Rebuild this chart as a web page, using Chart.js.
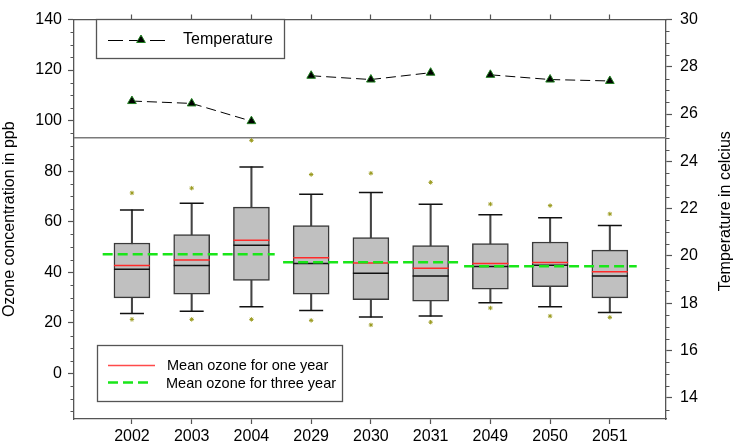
<!DOCTYPE html>
<html>
<head>
<meta charset="utf-8">
<script src="https://cdn.jsdelivr.net/npm/chart.js@4.4.1/dist/chart.umd.min.js"></script>
<style>
    html, body { margin: 0; padding: 0; background: #fff; }
    #wrap { width: 735px; height: 446px; position: relative; }
</style>
</head>
<body>
<div id="wrap"><canvas id="chart"></canvas></div>
<script>
// values
const years = ['2002', '2003', '2004', '2029', '2030', '2031', '2049', '2050', '2051'];
const whiskerHigh = [64.7, 67.3, 81.7, 70.9, 71.6, 66.9, 62.8, 61.6, 58.5];
const q3 = [51.6, 54.9, 65.8, 58.5, 53.8, 50.6, 51.4, 52.0, 48.8];
const median = [41.2, 42.7, 50.7, 43.5, 39.6, 38.6, 42.3, 42.8, 38.6];
const mean = [42.7, 44.9, 52.7, 45.8, 43.7, 41.6, 43.5, 43.9, 40.2];
const q1 = [29.9, 31.4, 36.8, 31.4, 29.2, 28.6, 33.3, 34.3, 29.9];
const whiskerLow = [23.7, 24.6, 26.4, 24.9, 22.3, 22.7, 28.0, 26.4, 24.1];
const outlierHigh = [71.4, 73.3, 92.2, 78.7, 79.2, 75.6, 67.0, 66.4, 63.1];
const outlierLow = [21.4, 21.4, 21.4, 21.0, 19.2, 20.3, 25.9, 22.7, 22.2];
const temperature = [26.55, 26.45, 25.7, 27.62, 27.46, 27.75, 27.66, 27.46, 27.4];

// three-year groups: mean ozone and the span (in category units) of its line
const groupMean = [47.2, 44.0, 42.4];
const groupStart = [-0.49, 2.53, 5.56];
const groupEnd = [2.39, 5.54, 8.45];
const groupSize = 3;

const separatorTemp = 25;

const X_MIN = -0.97;
const X_MAX = 8.94;
const OZONE_MIN = -18;
const OZONE_MAX = 140;
const TEMP_MIN = 13.1;
const TEMP_MAX = 30;

const AXIS_COLOR = '#555';
const FONT = '"Liberation Sans", Arial, Helvetica, sans-serif';

Chart.defaults.font.family = FONT;
Chart.defaults.font.size = 16;
Chart.defaults.color = '#000';

const pts = (arr) => arr.map((v, i) => ({ x: i, y: v }));

function temperaturePoints() {
    const out = [];
    temperature.forEach((t, i) => {
        out.push({ x: i, y: t });
        if ((i + 1) % groupSize === 0 && i < temperature.length - 1) {
            out.push({ x: i + 0.5, y: null });
        }
    });
    return out;
}

const groupDatasets = groupMean.map((m, g) => ({
    type: 'line',
    data: [{ x: groupStart[g], y: m }, { x: groupEnd[g], y: m }],
    borderColor: '#19e619',
    borderWidth: 2.5,
    borderDash: [10, 5],
    pointRadius: 0,
    fill: false,
}));

const datasets = [
    {
        type: 'line',
        label: 'Temperature',
        yAxisID: 'y2',
        data: temperaturePoints(),
        borderColor: '#000',
        borderWidth: 1,
        borderDash: [10, 5],
        spanGaps: false,
        pointStyle: 'triangle',
        pointRadius: 5,
        pointBackgroundColor: '#000',
        pointBorderColor: '#1f7f1f',
        pointBorderWidth: 1,
        fill: false,
    },
    ...groupDatasets,
    {
        type: 'scatter',
        data: pts(outlierHigh).concat(pts(outlierLow)),
        pointStyle: 'star',
        pointRadius: 2.2,
        borderColor: '#9a9a1e',
        borderWidth: 1,
    },
    {
        type: 'scatter',
        data: pts(mean),
        pointStyle: 'line',
        pointRadius: 18,
        borderColor: '#ff2a2a',
        borderWidth: 1.5,
    },
    {
        type: 'scatter',
        data: pts(median),
        pointStyle: 'line',
        pointRadius: 18,
        borderColor: '#111',
        borderWidth: 1.5,
    },
    {
        type: 'scatter',
        data: pts(whiskerHigh).concat(pts(whiskerLow)),
        pointStyle: 'line',
        pointRadius: 12,
        borderColor: '#111',
        borderWidth: 1.5,
    },
    {
        type: 'bar',
        data: q1.map((v, i) => ({ x: i, y: [v, q3[i]] })),
        backgroundColor: '#c0c0c0',
        borderColor: '#3a3a3a',
        borderWidth: 1.5,
        borderSkipped: false,
        barThickness: 36,
        grouped: false,
    },
    {
        type: 'bar',
        data: whiskerLow.map((v, i) => ({ x: i, y: [v, whiskerHigh[i]] })),
        backgroundColor: '#444',
        borderWidth: 0,
        barThickness: 1.4,
        grouped: false,
    },
    {
        type: 'line',
        yAxisID: 'y2',
        data: [{ x: X_MIN, y: separatorTemp }, { x: X_MAX, y: separatorTemp }],
        borderColor: '#7a7a7a',
        borderWidth: 1.5,
        pointRadius: 0,
    },
];

function fixWidth(w) {
    return (scale) => {
        scale.width = w;
        scale.paddingTop = 0;
        scale.paddingBottom = 0;
    };
}

function fixHeight(h) {
    return (scale) => {
        scale.height = h;
        scale.paddingLeft = 0;
        scale.paddingRight = 0;
    };
}

const minorTicks = {
    id: 'minorTicks',
    afterDraw(chart) {
        const { ctx, chartArea } = chart;
        const y = chart.scales.y;
        const y2 = chart.scales.y2;
        ctx.save();
        ctx.strokeStyle = AXIS_COLOR;
        ctx.lineWidth = 1;
        ctx.beginPath();
        for (let v = -15; v < OZONE_MAX; v += 5) {
            if (v % 20 === 0) continue;
            const py = Math.round(y.getPixelForValue(v)) + 0.5;
            ctx.moveTo(chartArea.left - 3.5, py);
            ctx.lineTo(chartArea.left, py);
        }
        for (let v = 13.5; v < TEMP_MAX; v += 0.5) {
            if (v % 2 === 0) continue;
            const py = Math.round(y2.getPixelForValue(v)) + 0.5;
            ctx.moveTo(chartArea.right, py);
            ctx.lineTo(chartArea.right + 3.5, py);
        }
        ctx.stroke();
        ctx.restore();
    }
};

const legendsAndTitle = {
    id: 'legendsAndTitle',
    afterDraw(chart) {
        const { ctx, chartArea } = chart;
        ctx.save();

        // temperature legend
        ctx.fillStyle = '#fff';
        ctx.fillRect(96, 19, 188, 39);
        ctx.strokeStyle = AXIS_COLOR;
        ctx.lineWidth = 1.3;
        ctx.strokeRect(96.5, 19.5, 188, 39);
        ctx.strokeStyle = '#000';
        ctx.lineWidth = 1;
        ctx.setLineDash([15, 6]);
        ctx.beginPath();
        ctx.moveTo(108, 40.5);
        ctx.lineTo(170, 40.5);
        ctx.stroke();
        ctx.setLineDash([]);
        ctx.fillStyle = '#000';
        ctx.strokeStyle = '#1f7f1f';
        Chart.helpers.drawPoint(ctx, { pointStyle: 'triangle', radius: 5, rotation: 0, borderWidth: 1 }, 141, 40);
        ctx.fillStyle = '#000';
        ctx.font = '16px ' + FONT;
        ctx.textBaseline = 'middle';
        ctx.textAlign = 'left';
        ctx.fillText('Temperature', 183, 40);

        // mean ozone legend
        ctx.fillStyle = '#fff';
        ctx.fillRect(97, 345, 245, 56);
        ctx.strokeStyle = AXIS_COLOR;
        ctx.lineWidth = 1.3;
        ctx.strokeRect(97.5, 345.5, 245, 56);
        ctx.strokeStyle = '#ff4a4a';
        ctx.lineWidth = 1.5;
        ctx.beginPath();
        ctx.moveTo(108, 365.5);
        ctx.lineTo(155, 365.5);
        ctx.stroke();
        ctx.strokeStyle = '#19e619';
        ctx.lineWidth = 2.5;
        ctx.setLineDash([10, 5]);
        ctx.beginPath();
        ctx.moveTo(108, 382.5);
        ctx.lineTo(152, 382.5);
        ctx.stroke();
        ctx.setLineDash([]);
        ctx.fillStyle = '#000';
        ctx.font = '14.5px ' + FONT;
        ctx.fillText('Mean ozone for one year', 167, 366);
        ctx.fillText('Mean ozone for three year', 166, 384);

        // right axis title, reading bottom to top
        ctx.font = '16px ' + FONT;
        ctx.textAlign = 'center';
        ctx.translate(726, (chartArea.top + chartArea.bottom) / 2 - 8);
        ctx.rotate(-Math.PI / 2);
        ctx.fillText('Temperature in celcius', 0, 0);

        ctx.restore();
    }
};

new Chart(document.getElementById('chart'), {
    type: 'bar',
    data: { datasets },
    plugins: [minorTicks, legendsAndTitle],
    options: {
        responsive: true,
        maintainAspectRatio: false,
        animation: false,
        events: [],
        layout: { padding: 0 },
        plugins: {
            legend: { display: false },
            tooltip: { enabled: false },
        },
        scales: {
            x: {
                type: 'linear',
                position: 'bottom',
                offset: false,
                min: X_MIN,
                max: X_MAX,
                ticks: {
                    stepSize: 1,
                    includeBounds: false,
                    autoSkip: false,
                    maxRotation: 0,
                    padding: 3,
                    callback: (v) => years[v] ?? '',
                },
                grid: { offset: false, drawOnChartArea: false, tickLength: 5, color: AXIS_COLOR, tickWidth: 1.2 },
                border: { color: AXIS_COLOR, width: 1.3 },
                afterFit: fixHeight(27),
            },
            x2: {
                type: 'linear',
                axis: 'x',
                position: 'top',
                offset: false,
                min: X_MIN,
                max: X_MAX,
                ticks: { stepSize: 1, includeBounds: false, display: false },
                grid: { offset: false, drawOnChartArea: false, tickLength: 5, color: AXIS_COLOR, tickWidth: 1.2 },
                border: { color: AXIS_COLOR, width: 1.3 },
                afterFit: fixHeight(6),
            },
            y: {
                type: 'linear',
                position: 'left',
                min: OZONE_MIN,
                max: OZONE_MAX,
                ticks: { stepSize: 20, includeBounds: false, padding: 6 },
                grid: { drawOnChartArea: false, tickLength: 6, color: AXIS_COLOR, tickWidth: 1.2 },
                border: { color: AXIS_COLOR, width: 1.3 },
                title: {
                    display: true,
                    text: 'Ozone concentration in ppb',
                    font: { size: 16 },
                    padding: { top: 0, bottom: 0 },
                },
                afterFit: fixWidth(74),
            },
            y2: {
                type: 'linear',
                position: 'right',
                min: TEMP_MIN,
                max: TEMP_MAX,
                ticks: { stepSize: 2, includeBounds: false, padding: 8 },
                grid: { drawOnChartArea: false, tickLength: 6, color: AXIS_COLOR, tickWidth: 1.2 },
                border: { color: AXIS_COLOR, width: 1.3 },
                afterFit: fixWidth(69),
            },
        },
    },
});
</script>
</body>
</html>
